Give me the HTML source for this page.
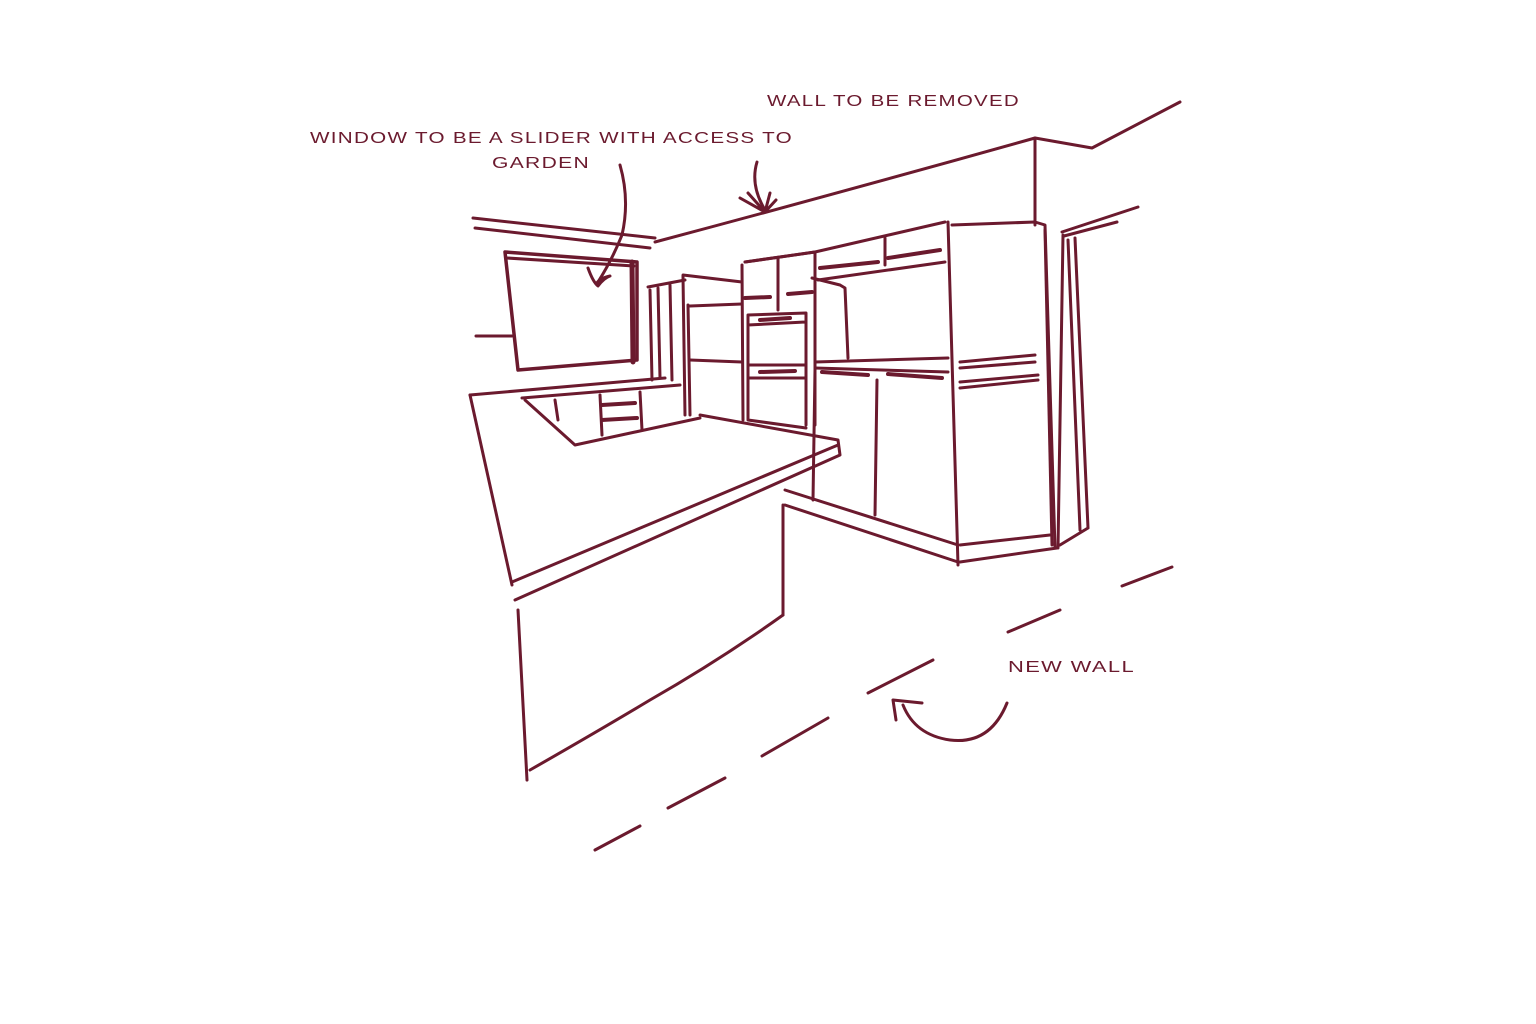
<!DOCTYPE html>
<html><head><meta charset="utf-8"><style>
html,body{margin:0;padding:0;background:#fff;width:1536px;height:1024px;overflow:hidden}
svg{display:block}
text{font-family:"Liberation Sans",sans-serif;font-size:16px;fill:#6b1a2e;letter-spacing:1px}
</style></head><body>
<svg width="1536" height="1024" viewBox="0 0 1536 1024" xmlns="http://www.w3.org/2000/svg">
<g fill="none" stroke="#6b1a2e" stroke-width="3" stroke-linecap="round" stroke-linejoin="round">
<path d="M1035,138 L1092,148 L1180,102"/>
<path d="M655,242 Q850,190 1035,138 L1035,225"/>
<path d="M473,218 L655,238"/>
<path d="M475,228 L650,248"/>
<path d="M1062,232 L1138,207"/>
<path d="M1064,236 L1117,222"/>
<path d="M505,252 L637,262 L637,360 L518,370 Z" stroke-width="3.5"/>
<path d="M507,258 L634,266"/>
<path d="M632,262 L633,362" stroke-width="5"/>
<path d="M476,336 L512,336"/>
<path d="M648,287 L685,280"/>
<path d="M650,290 L652,380 M658,288 L660,378 M670,285 L672,380"/>
<path d="M683,275 L742,282"/>
<path d="M683,276 L685,415 M688,305 L690,415"/>
<path d="M690,306 L742,304 M690,360 L742,362"/>
<path d="M742,265 L743,420"/>
<path d="M745,262 L815,252 L815,425"/>
<path d="M748,315 L806,313 L806,425 M748,325 L805,322 M748,365 L806,365 M748,378 L806,378 M748,420 L806,428 M748,315 L748,420"/>
<path d="M778,258 L778,310"/>
<path d="M760,320 L790,318 M760,372 L795,371" stroke-width="4"/>
<path d="M745,262 L815,252 L945,222"/>
<path d="M745,298 L770,297 M788,294 L812,292 M820,268 L878,262 M888,258 L940,250" stroke-width="4"/>
<path d="M885,238 L885,265"/>
<path d="M818,280 L945,262"/>
<path d="M812,278 L840,285 L845,288 L848,358"/>
<path d="M815,362 L948,358 M815,368 L948,372"/>
<path d="M822,372 L868,375 M888,374 L942,378" stroke-width="4"/>
<path d="M815,370 L813,500 M877,380 L875,515"/>
<path d="M948,222 L958,565 M952,225 L1035,222 L1045,225 L1055,548"/>
<path d="M1045,230 L1052,545"/>
<path d="M960,362 L1035,355 M960,368 L1035,362 M960,382 L1038,375 M960,388 L1038,380"/>
<path d="M960,545 L1050,535 M960,562 L1057,548"/>
<path d="M1063,235 L1058,548 M1075,238 L1088,528 M1068,240 L1080,530 M1060,545 L1088,528"/>
<path d="M785,490 L958,545 M785,505 L958,562"/>
<path d="M522,398 L680,385"/>
<path d="M525,400 L575,445 L700,418"/>
<path d="M555,400 L558,420 M600,395 L602,435 M640,392 L642,430"/>
<path d="M602,405 L635,403 M602,420 L637,418" stroke-width="4"/>
<path d="M470,395 L665,378"/>
<path d="M470,395 L512,585"/>
<path d="M700,415 L838,440 L840,455 L515,600"/>
<path d="M512,582 L838,445"/>
<path d="M518,610 L527,780"/>
<path d="M783,505 L783,615"/>
<path d="M530,770 Q600,730 650,700 Q720,660 783,615"/>
<path d="M595,850 L640,826 M668,808 L725,778 M762,756 L828,718 M868,693 L933,660 M1008,632 L1060,610 M1122,586 L1172,567"/>
<path d="M1007,703 Q990,745 950,740 Q915,735 903,705"/>
<path d="M893,700 L922,703 M893,700 L896,720"/>
<path d="M620,165 Q630,200 622,235 Q612,260 598,282"/>
<path d="M588,268 Q593,282 598,286 Q604,278 610,276 Q600,278 596,284"/>
<path d="M757,162 Q750,185 765,210"/>
<path d="M740,198 L765,212 M748,193 L765,212 M770,193 L765,212 M776,200 L765,212"/>
</g>
<text x="767" y="106" textLength="253" lengthAdjust="spacingAndGlyphs">WALL TO BE REMOVED</text>
<text x="310" y="143" textLength="483" lengthAdjust="spacingAndGlyphs">WINDOW TO BE A SLIDER WITH ACCESS TO</text>
<text x="492" y="168" textLength="98" lengthAdjust="spacingAndGlyphs">GARDEN</text>
<text x="1008" y="672" textLength="127" lengthAdjust="spacingAndGlyphs">NEW WALL</text>
</svg>
</body></html>
